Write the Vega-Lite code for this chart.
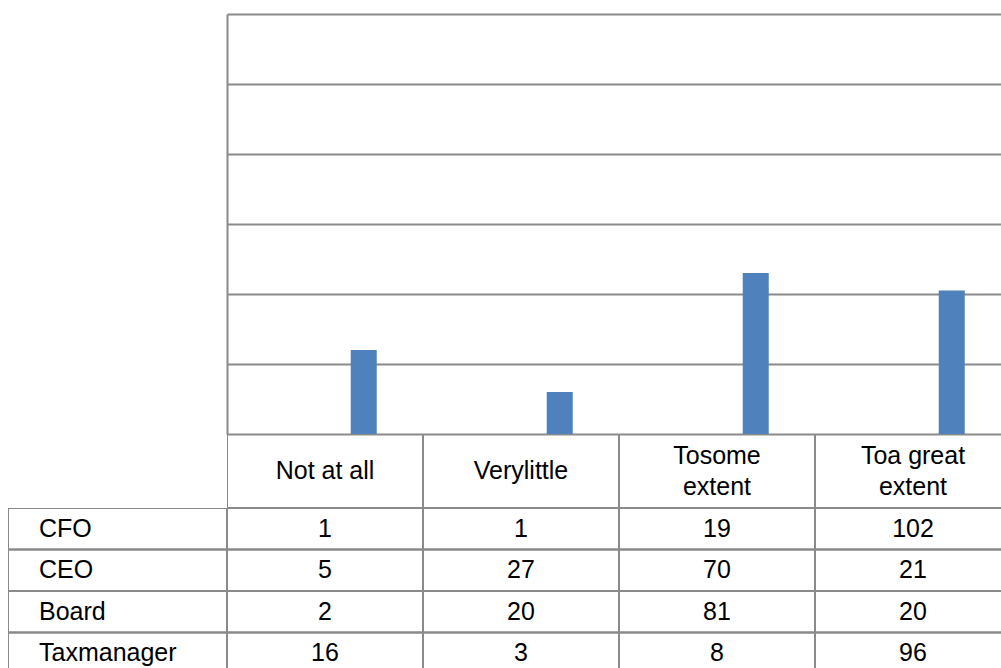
{
  "$schema": "https://vega.github.io/schema/vega-lite/v6.json",
  "padding": {"left": 8, "top": 14, "right": 0, "bottom": 0},
  "background": "white",
  "config": {"view": {"stroke": null}, "font": "Liberation Sans", "text": {"font": "Liberation Sans"}},
  "datasets": {
    "bars": [
      {"category": "Not at all", "series": "Taxmanager", "value": 24},
      {"category": "Very little", "series": "Taxmanager", "value": 12},
      {"category": "To some extent", "series": "Taxmanager", "value": 46},
      {"category": "To a great extent", "series": "Taxmanager", "value": 41}
    ],
    "header": [
      {"category": "Not at all", "label": "Not at all", "lines": 1},
      {"category": "Very little", "label": "Verylittle", "lines": 1},
      {"category": "To some extent", "label": "Tosome\nextent", "lines": 2},
      {"category": "To a great extent", "label": "Toa great\nextent", "lines": 2}
    ],
    "table": [
      {"role": "CFO", "category": "Not at all", "value": 1},
      {"role": "CFO", "category": "Very little", "value": 1},
      {"role": "CFO", "category": "To some extent", "value": 19},
      {"role": "CFO", "category": "To a great extent", "value": 102},
      {"role": "CEO", "category": "Not at all", "value": 5},
      {"role": "CEO", "category": "Very little", "value": 27},
      {"role": "CEO", "category": "To some extent", "value": 70},
      {"role": "CEO", "category": "To a great extent", "value": 21},
      {"role": "Board", "category": "Not at all", "value": 2},
      {"role": "Board", "category": "Very little", "value": 20},
      {"role": "Board", "category": "To some extent", "value": 81},
      {"role": "Board", "category": "To a great extent", "value": 20},
      {"role": "Taxmanager", "category": "Not at all", "value": 16},
      {"role": "Taxmanager", "category": "Very little", "value": 3},
      {"role": "Taxmanager", "category": "To some extent", "value": 8},
      {"role": "Taxmanager", "category": "To a great extent", "value": 96}
    ]
  },
  "spacing": 0,
  "bounds": "flush",
  "columns": 2,
  "concat": [
    {"width": 219, "height": 420, "data": {"values": []}, "mark": "rect"},
    {
      "width": 774,
      "height": 420,
      "data": {"name": "bars"},
      "mark": {"type": "bar", "color": "#4f81bd", "clip": true, "width": {"band": 0.1327}, "xOffset": 38.75},
      "encoding": {
        "x": {"field": "category", "type": "nominal", "scale": {"domain": ["Not at all", "Very little", "To some extent", "To a great extent"], "range": [0, 784], "paddingInner": 0, "paddingOuter": 0}, "axis": null},
        "y": {"field": "value", "type": "quantitative", "scale": {"domain": [0, 120], "nice": false},
          "axis": {"values": [0, 20, 40, 60, 80, 100, 120], "labels": false, "ticks": false, "title": null, "domain": true, "domainColor": "#8a8a8a", "domainWidth": 2, "grid": true, "gridColor": "#8a8a8a", "gridWidth": 2, "minExtent": 0}}
      }
    },
    {"width": 219, "height": 74, "data": {"values": []}, "mark": "rect"},
    {
      "width": 774,
      "height": 74,
      "data": {"name": "header"},
      "encoding": {
        "x": {"field": "category", "type": "nominal", "scale": {"domain": ["Not at all", "Very little", "To some extent", "To a great extent"], "range": [0, 784], "paddingInner": 0, "paddingOuter": 0}, "axis": null}
      },
      "layer": [
        {"mark": {"type": "rect", "filled": false, "color": "#8a8a8a", "strokeWidth": 2, "clip": true}},
        {"transform": [{"filter": "datum.lines === 1"}],
          "mark": {"type": "text", "fontSize": 25, "baseline": "middle", "color": "black", "clip": true},
          "encoding": {"text": {"field": "label", "type": "nominal"}}},
        {"transform": [{"filter": "datum.lines === 2"}],
          "mark": {"type": "text", "fontSize": 25, "lineBreak": "\n", "lineHeight": 31, "baseline": "middle", "dy": -15.5, "color": "black", "clip": true},
          "encoding": {"text": {"field": "label", "type": "nominal"}}}
      ]
    },
    {
      "width": 219,
      "height": 160,
      "data": {"name": "table"},
      "transform": [{"filter": "datum.category === 'Not at all'"}],
      "encoding": {
        "y": {"field": "role", "type": "nominal", "scale": {"domain": ["CFO", "CEO", "Board", "Taxmanager"], "range": [0, 166], "paddingInner": 0, "paddingOuter": 0}, "axis": null}
      },
      "layer": [
        {"mark": {"type": "rect", "filled": false, "color": "#8a8a8a", "strokeWidth": 2, "clip": true}},
        {"mark": {"type": "text", "fontSize": 25, "align": "left", "dx": -78.5, "baseline": "middle", "color": "black", "clip": true},
          "encoding": {"text": {"field": "role", "type": "nominal"}}}
      ]
    },
    {
      "width": 774,
      "height": 160,
      "data": {"name": "table"},
      "encoding": {
        "x": {"field": "category", "type": "nominal", "scale": {"domain": ["Not at all", "Very little", "To some extent", "To a great extent"], "range": [0, 784], "paddingInner": 0, "paddingOuter": 0}, "axis": null},
        "y": {"field": "role", "type": "nominal", "scale": {"domain": ["CFO", "CEO", "Board", "Taxmanager"], "range": [0, 166], "paddingInner": 0, "paddingOuter": 0}, "axis": null}
      },
      "layer": [
        {"mark": {"type": "rect", "filled": false, "color": "#8a8a8a", "strokeWidth": 2, "clip": true}},
        {"mark": {"type": "text", "fontSize": 25, "baseline": "middle", "color": "black", "clip": true},
          "encoding": {"text": {"field": "value", "type": "quantitative"}}}
      ]
    }
  ]
}
